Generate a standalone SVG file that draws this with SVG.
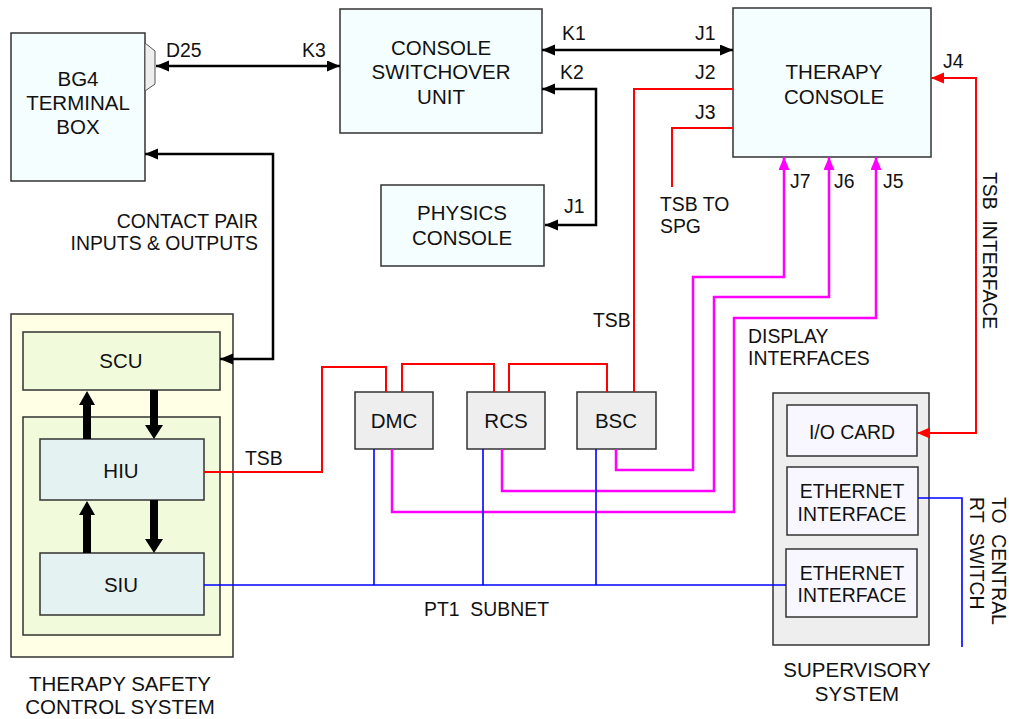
<svg xmlns="http://www.w3.org/2000/svg" width="1009" height="719" viewBox="0 0 1009 719">
<defs>
<marker id="ab" markerUnits="userSpaceOnUse" markerWidth="14" markerHeight="12" refX="13" refY="5.5" orient="auto-start-reverse"><path d="M0,0 L13,5.5 L0,11 z" fill="#000"/></marker>
<marker id="ar" markerUnits="userSpaceOnUse" markerWidth="14" markerHeight="12" refX="13" refY="5.5" orient="auto-start-reverse"><path d="M0,0 L13,5.5 L0,11 z" fill="#f00"/></marker>
<marker id="am" markerUnits="userSpaceOnUse" markerWidth="14" markerHeight="12" refX="13" refY="5.5" orient="auto-start-reverse"><path d="M0,0 L13,5.5 L0,11 z" fill="#f0f"/></marker>
</defs>
<style>
text{font-family:"Liberation Sans",Arial,sans-serif;fill:#111}
.lb{font-size:19.4px}
.bx{font-size:20.5px;text-anchor:middle}
.sm{font-size:19.4px}
.box{stroke:#333;stroke-width:1.5}
.cy{fill:#f4fefe}
.gr{fill:#eeeeee}
.hu{fill:#e4f2f2}
.gn{fill:#f1fbdb}
.io{fill:#f8f7ff}
.k{fill:none;stroke:#000;stroke-width:2.5}
.r{fill:none;stroke:#f00;stroke-width:2}
.m{fill:none;stroke:#f0f;stroke-width:2.5}
.b{fill:none;stroke:#00f;stroke-width:1.6}
</style>
<rect width="1009" height="719" fill="#fff"/>

<g id="bg4">
<rect class="box cy" x="11" y="33" width="134" height="148"/>
<polygon points="145,43 155,51 155,84 145,91" fill="#eee" stroke="#555" stroke-width="1"/>
<text class="bx" x="78" y="86">BG4</text>
<text class="bx" x="78" y="110">TERMINAL</text>
<text class="bx" x="78" y="134">BOX</text>
</g>

<g id="csu">
<rect class="box cy" x="340" y="9" width="202" height="124"/>
<text class="bx" x="441" y="55">CONSOLE</text>
<text class="bx" x="441" y="79">SWITCHOVER</text>
<text class="bx" x="441" y="104">UNIT</text>
</g>

<g id="therapy">
<rect class="box cy" x="733" y="8" width="198" height="149"/>
<text class="bx" x="834" y="79">THERAPY</text>
<text class="bx" x="834" y="104">CONSOLE</text>
</g>

<g id="physics">
<rect class="box cy" x="381" y="185" width="163" height="81"/>
<text class="bx" x="462" y="220">PHYSICS</text>
<text class="bx" x="462" y="245">CONSOLE</text>
</g>

<g id="tscs">
<rect class="box" fill="#ffffe6" x="11" y="314" width="222" height="343"/>
<rect class="box gn" x="23" y="332" width="197" height="58"/>
<text class="bx" x="121" y="368">SCU</text>
<rect class="box gn" x="23" y="417" width="197" height="218"/>
<rect class="box hu" x="40" y="439" width="164" height="61"/>
<text class="bx" x="121" y="478">HIU</text>
<rect class="box hu" x="40" y="553" width="164" height="62"/>
<text class="bx" x="121" y="592">SIU</text>
<polygon points="83,439 83,405 79,405 87,391 95,405 91,405 91,439" fill="#000"/>
<polygon points="150,390 150,425 145,425 154,439 163,425 158,425 158,390" fill="#000"/>
<polygon points="83,553 83,515 79,515 87,501 95,515 91,515 91,553" fill="#000"/>
<polygon points="150,500 150,539 145,539 154,553 163,539 158,539 158,500" fill="#000"/>
<text class="bx" x="120" y="691">THERAPY SAFETY</text>
<text class="bx" x="120" y="714">CONTROL SYSTEM</text>
</g>

<g id="dmc"><rect class="box gr" x="355" y="392" width="78" height="57"/><text class="bx" x="394" y="428">DMC</text></g>
<g id="rcs"><rect class="box gr" x="467" y="392" width="78" height="57"/><text class="bx" x="506" y="428">RCS</text></g>
<g id="bsc"><rect class="box gr" x="577" y="392" width="79" height="57"/><text class="bx" x="616" y="428">BSC</text></g>

<g id="supervisory">
<rect class="box gr" x="773" y="393" width="156" height="252"/>
<rect class="box io" x="787" y="405" width="130" height="51"/>
<text class="bx sm" x="852" y="439">I/O CARD</text>
<rect class="box io" x="787" y="467" width="131" height="68"/>
<text class="bx sm" x="852" y="498">ETHERNET</text>
<text class="bx sm" x="852" y="521">INTERFACE</text>
<rect class="box io" x="786" y="549" width="131" height="68"/>
<text class="bx sm" x="852" y="580">ETHERNET</text>
<text class="bx sm" x="852" y="602">INTERFACE</text>
<text class="bx" x="857" y="677">SUPERVISORY</text>
<text class="bx" x="857" y="701">SYSTEM</text>
</g>

<g id="connectors">
<path class="k" d="M156,66 H340" marker-start="url(#ab)" marker-end="url(#ab)"/>
<path class="k" d="M542,50 H733" marker-start="url(#ab)" marker-end="url(#ab)"/>
<path class="k" d="M542,89 H596 V225 H545" marker-start="url(#ab)" marker-end="url(#ab)"/>
<path class="k" d="M145,154 H273 V359 H220" marker-start="url(#ab)" marker-end="url(#ab)"/>
<path class="r" d="M733,89 H634 V392"/>
<path class="r" d="M733,128 H672 V187"/>
<path class="r" d="M931,78 H976 V433 H917" marker-start="url(#ar)" marker-end="url(#ar)"/>
<path class="r" d="M204,472 H322 V367 H386 V392"/>
<path class="r" d="M402,392 V364 H494 V392"/>
<path class="r" d="M509,392 V364 H607 V392"/>
<path class="m" d="M784,157 V277 H693 V470 H616 V449" marker-start="url(#am)"/>
<path class="m" d="M829,157 V297 H714 V491 H502 V449" marker-start="url(#am)"/>
<path class="m" d="M876,157 V318 H734 V512 H392 V449" marker-start="url(#am)"/>
<path class="b" d="M204,585 H786"/>
<path class="b" d="M374,449 V585 M483,449 V585 M596,449 V585"/>
<path class="b" d="M918,498 H962 V647"/>
</g>

<g id="labels">
<text class="lb" x="166" y="57">D25</text>
<text class="lb" x="302" y="57">K3</text>
<text class="lb" x="562" y="40">K1</text>
<text class="lb" x="695" y="40">J1</text>
<text class="lb" x="560" y="79">K2</text>
<text class="lb" x="695" y="79">J2</text>
<text class="lb" x="695" y="119">J3</text>
<text class="lb" x="943" y="68">J4</text>
<text class="lb" x="790" y="188">J7</text>
<text class="lb" x="834" y="188">J6</text>
<text class="lb" x="883" y="188">J5</text>
<text class="lb" x="660" y="211">TSB TO</text>
<text class="lb" x="660" y="233">SPG</text>
<text class="lb" x="593" y="327">TSB</text>
<text class="lb" x="748" y="343">DISPLAY</text>
<text class="lb" x="748" y="365">INTERFACES</text>
<text class="lb" x="564" y="213">J1</text>
<text class="lb" x="245" y="465">TSB</text>
<text class="lb" x="424" y="616" style="white-space:pre">PT1  SUBNET</text>
<text class="lb" x="258" y="228" text-anchor="end">CONTACT PAIR</text>
<text class="lb" x="258" y="250" text-anchor="end">INPUTS &amp; OUTPUTS</text>
<text class="lb" transform="translate(983,172) rotate(90)" style="white-space:pre">TSB  INTERFACE</text>
<text class="lb" transform="translate(992,497) rotate(90)" style="white-space:pre">TO  CENTRAL</text>
<text class="lb" transform="translate(970,497) rotate(90)" style="white-space:pre">RT  SWITCH</text>
</g>
</svg>
